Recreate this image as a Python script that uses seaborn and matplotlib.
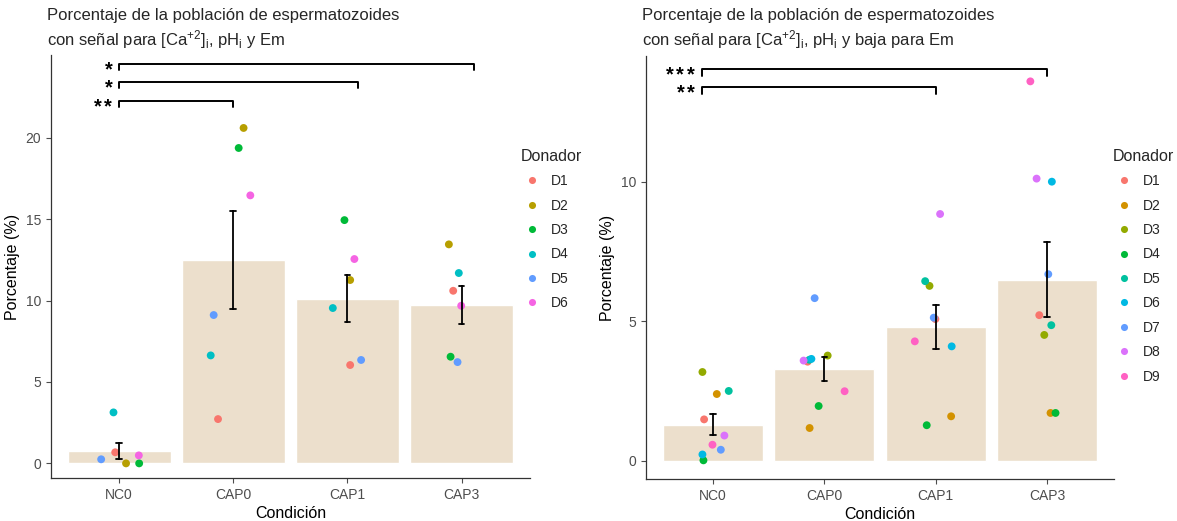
import numpy as np
import pandas as pd
import matplotlib
matplotlib.use("Agg")
import matplotlib.pyplot as plt
import seaborn as sns

sns.set_theme(style="ticks")
plt.rcParams["font.family"] = ["Liberation Sans", "DejaVu Sans"]
plt.rcParams["mathtext.fontset"] = "custom"
plt.rcParams["mathtext.rm"] = "Liberation Sans"
plt.rcParams["mathtext.it"] = "Liberation Sans:italic"
plt.rcParams["mathtext.bf"] = "Liberation Sans:bold"
plt.rcParams["mathtext.default"] = "regular"

# ---- data: left panel ----
conds = ["NC0", "CAP0", "CAP1", "CAP3"]
donors_a = ["D1", "D2", "D3", "D4", "D5", "D6"]
vals_a = {
    "NC0":  [0.68, 0.0, 0.0, 3.13, 0.25, 0.49],
    "CAP0": [2.72, 20.6, 19.37, 6.63, 9.11, 16.46],
    "CAP1": [6.04, 11.26, 14.94, 9.54, 6.35, 12.55],
    "CAP3": [10.6, 13.45, 6.55, 11.69, 6.22, 9.68],
}
jit_a = {
    "NC0":  [-0.035, 0.06, 0.175, -0.05, -0.158, 0.172],
    "CAP0": [-0.134, 0.09, 0.047, -0.198, -0.172, 0.149],
    "CAP1": [0.024, 0.024, -0.026, -0.128, 0.12, 0.061],
    "CAP3": [-0.073, -0.111, -0.096, -0.024, -0.035, -0.003],
}
# (start, end, y, label)
sig_a = [(0, 3.11, 24.5, "*"), (0, 2.09, 23.44, "*"), (0, 1, 22.25, "**")]
pal_a = ["#F8766D", "#B79F00", "#00BA38", "#00BFC4", "#619CFF", "#F564E3"]

# ---- data: right panel ----
donors_b = ["D1", "D2", "D3", "D4", "D5", "D6", "D7", "D8", "D9"]
vals_b = {
    "NC0":  [1.48, 2.39, 3.18, 0.01, 2.5, 0.22, 0.39, 0.9, 0.57],
    "CAP0": [3.55, 1.17, 3.77, 1.96, 3.62, 3.65, 5.83, 3.59, 2.49],
    "CAP1": [5.08, 1.59, 6.27, 1.27, 6.44, 4.1, 5.13, 8.85, 4.28],
    "CAP3": [5.22, 1.71, 4.51, 1.71, 4.86, 10.01, 6.69, 10.12, 13.61],
}
jit_b = {
    "NC0":  [-0.079, 0.035, -0.094, -0.085, 0.142, -0.094, 0.071, 0.103, -0.004],
    "CAP0": [-0.15, -0.132, 0.03, -0.051, -0.134, -0.116, -0.087, -0.186, 0.182],
    "CAP1": [-0.003, 0.138, -0.056, -0.081, -0.095, 0.143, -0.018, 0.039, -0.188],
    "CAP3": [-0.071, 0.03, -0.026, 0.075, 0.037, 0.042, 0.01, -0.095, -0.151],
}
sig_b = [(-0.1, 3, 14.05, "***"), (-0.1, 2, 13.42, "**")]
pal_b = ["#F8766D", "#D39200", "#93AA00", "#00BA38", "#00C19F",
         "#00B9E3", "#619CFF", "#DB72FB", "#FF61C3"]

bar_color = "#ECDFCC"


def long_df(vals, jit, donors):
    rows = []
    for i, c in enumerate(conds):
        for d, v, j in zip(donors, vals[c], jit[c]):
            rows.append({"Condicion": c, "Donador": d, "Porcentaje": v, "xpos": i + j})
    return pd.DataFrame(rows)


def stars(lab):
    # tight mathtext box so stacked labels don't collide
    return r"$\mathbf{" + r"\,".join(["{*}"] * len(lab)) + "}$"


def panel(ax, df, donors, pal, sig, ylim, yticks, tip, legend_xy):
    sns.barplot(data=df, x="Condicion", y="Porcentaje", order=conds,
                errorbar="se", color=bar_color, saturation=1, width=0.9,
                capsize=0.05, err_kws={"color": "black", "linewidth": 1.3},
                ax=ax)
    for ln in ax.lines:
        ln.set_zorder(5)
    sns.scatterplot(data=df, x="xpos", y="Porcentaje", hue="Donador",
                    hue_order=donors, palette=pal, s=32, linewidth=0,
                    ax=ax, zorder=4)
    for x0, x1, y, lab in sig:
        ax.plot([x0, x0, x1, x1], [y - tip, y, y, y - tip], color="black",
                lw=1.4, clip_on=False, zorder=6)
        ax.annotate(stars(lab), xy=(x0, y), xytext=(-4, -3.5),
                    textcoords="offset points", ha="right", va="center",
                    fontsize=14.5, color="black")
    ax.set_xlim(-0.6, 3.6)
    ax.set_ylim(*ylim)
    ax.set_xticks(range(len(conds)))
    ax.set_xticklabels(conds)
    ax.set_yticks(yticks)
    ax.tick_params(colors="#4D4D4D", labelsize=10, length=3.5, width=0.8)
    ax.tick_params(axis="both", labelcolor="#4D4D4D")
    for s in ["top", "right"]:
        ax.spines[s].set_visible(False)
    for s in ["left", "bottom"]:
        ax.spines[s].set_color("#333333")
        ax.spines[s].set_linewidth(0.9)
    ax.set_xlabel("Condición", fontsize=11.5, color="black", labelpad=3)
    ax.set_ylabel("Porcentaje (%)", fontsize=11.5, color="black", labelpad=4)
    leg = ax.legend(title="Donador", loc="upper left", bbox_to_anchor=legend_xy,
                    bbox_transform=fig.transFigure, frameon=False, fontsize=10,
                    title_fontsize=11.5, handlelength=1.6, handletextpad=0.55,
                    labelspacing=0.75, markerscale=0.9, borderaxespad=0)
    leg._legend_box.align = "left"


fig = plt.figure(figsize=(11.77, 5.21), dpi=100)
ax1 = fig.add_axes([0.0431, 0.0825, 0.4072, 0.8119])
ax2 = fig.add_axes([0.5489, 0.0806, 0.3976, 0.8119])

panel(ax1, long_df(vals_a, jit_a, donors_a), donors_a, pal_a, sig_a,
      (-0.9, 25.08), [0, 5, 10, 15, 20], 0.37, (0.438, 0.725))
panel(ax2, long_df(vals_b, jit_b, donors_b), donors_b, pal_b, sig_b,
      (-0.66, 14.52), [0, 5, 10], 0.25, (0.9405, 0.725))

fig.text(0.0397, 0.985,
         "Porcentaje de la población de espermatozoides\n"
         "con señal para [Ca$^{+2}$]$_{i}$, pH$_{i}$ y Em",
         ha="left", va="top", fontsize=12, linespacing=1.3)
fig.text(0.5455, 0.985,
         "Porcentaje de la población de espermatozoides\n"
         "con señal para [Ca$^{+2}$]$_{i}$, pH$_{i}$ y baja para Em",
         ha="left", va="top", fontsize=12, linespacing=1.3)

fig.savefig("out.png", dpi=100)
